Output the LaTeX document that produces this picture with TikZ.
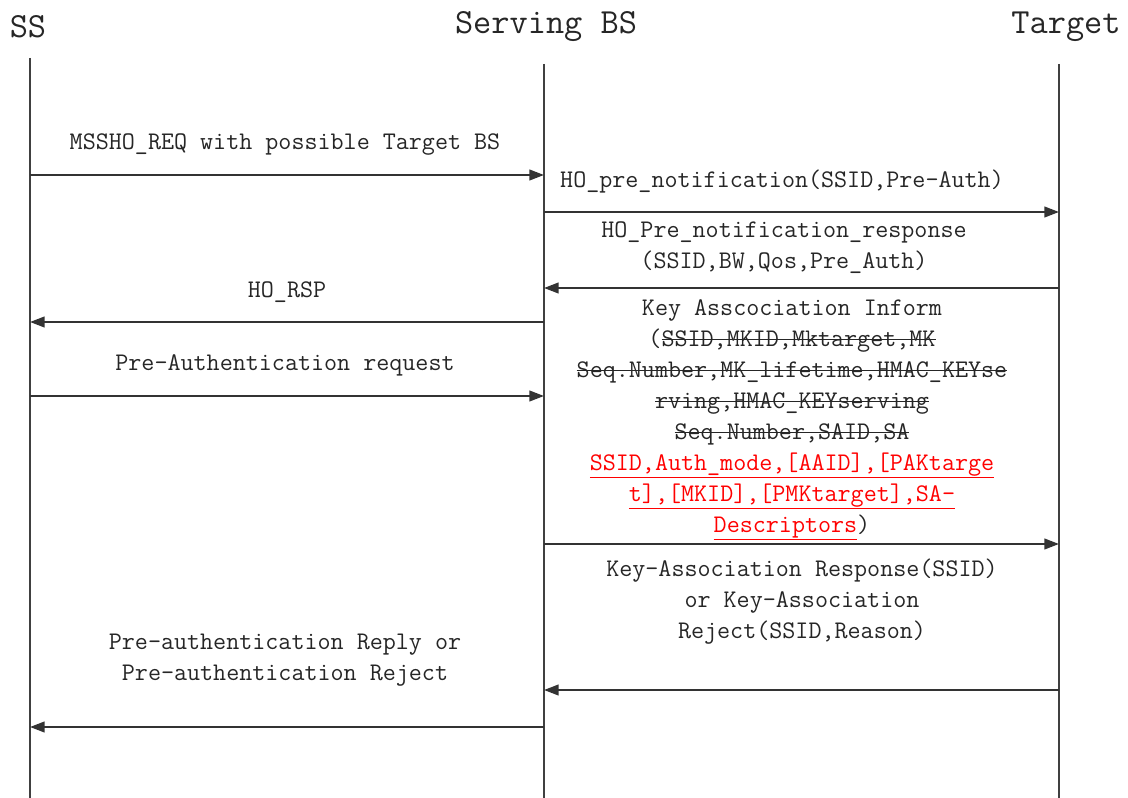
\documentclass[tikz,border=0pt]{standalone}
\usepackage{fontspec}
\usepackage{xcolor}
\usetikzlibrary{arrows.meta}
\newsavebox\markbox
\newcommand\strk[1]{\sbox\markbox{#1}\rlap{\rule[0.27em]{\wd\markbox}{1pt}}\usebox\markbox}
\newcommand\undl[1]{\sbox\markbox{#1}\rlap{\rule[-0.28em]{\wd\markbox}{0.8pt}}\usebox\markbox}

\begin{document}
\begin{tikzpicture}[x=0.75pt,y=-0.75pt,
    lifeline/.style={draw=black!75,line width=1pt},
    msg/.style={draw=black!80,line width=1.6pt,-{Triangle[length=11pt,width=8pt]}},
    head/.style={font=\ttfamily\fontsize{26.5}{30}\selectfont,text=black!85,inner sep=0pt},
    lbl/.style={font=\ttfamily\fontsize{19}{23.25}\selectfont,text=black!85,align=center,inner sep=0pt}]
				\useasboundingbox[fill=white] (0,0) rectangle (1128,798);

				\node[head] (hSS) at (28,27) {SS};
				\node[head] (hBS) at (546,27) {Serving BS};
				\node[head] (hTG) at (1066,27) {Target};

				\coordinate (ssT) at (30,58);   \coordinate (ssB) at (30,798);
				\coordinate (bsT) at (544,64);  \coordinate (bsB) at (544,798);
				\coordinate (tgT) at (1059,64); \coordinate (tgB) at (1059,798);
				\draw[lifeline] (ssT) -- (ssB);
				\draw[lifeline] (bsT) -- (bsB);
				\draw[lifeline] (tgT) -- (tgB);

				\foreach \n/\y in {1/175,2/212,3/288,4/322,5/396,6/544,7/690,8/727}{
					\coordinate (ss\n) at (30,\y);
					\coordinate (bs\n) at (544,\y);
					\coordinate (tg\n) at (1059,\y);
				}

				\draw[msg] (ss1) -- (bs1);
				\draw[msg] (bs2) -- (tg2);
				\draw[msg] (tg3) -- (bs3);
				\draw[msg] (bs4) -- (ss4);
				\draw[msg] (ss5) -- (bs5);
				\draw[msg] (bs6) -- (tg6);
				\draw[msg] (tg7) -- (bs7);
				\draw[msg] (bs8) -- (ss8);

				\node[lbl] (mReq) at (285,145) {MSSHO\_REQ with possible Target BS};
				\node[lbl] (mPre) at (782,182) {HO\_pre\_notification(SSID,Pre-Auth)};
				\node[lbl] (mPreRsp) at (784,248) {HO\_Pre\_notification\_response\\(SSID,BW,Qos,Pre\_Auth)};
				\node[lbl] (mRsp) at (287,292) {HO\_RSP};
				\node[lbl] (mAuth) at (285,365) {Pre-Authentication request};
				\node[lbl] (mKey) at (792,420) {Key Asscociation Inform\\
					(\strk{SSID,MKID,Mktarget,MK}\\
					\strk{Seq.Number,MK\_lifetime,HMAC\_KEYse}\\
					\strk{rving,HMAC\_KEYserving}\\
					\strk{Seq.Number,SAID,SA}\\
					\textcolor{red}{\undl{SSID,Auth\_mode,[AAID],[PAKtarge}}\\
					\textcolor{red}{\undl{t],[MKID],[PMKtarget],SA-}}\\
					\textcolor{red}{\undl{Descriptors}})};
				\node[lbl] (mKeyRsp) at (802,602) {Key-Association Response(SSID)\\or Key-Association\\Reject(SSID,Reason)};
				\node[lbl] (mAuthRsp) at (285,660) {Pre-authentication Reply or\\Pre-authentication Reject};
			\end{tikzpicture}
\end{document}
